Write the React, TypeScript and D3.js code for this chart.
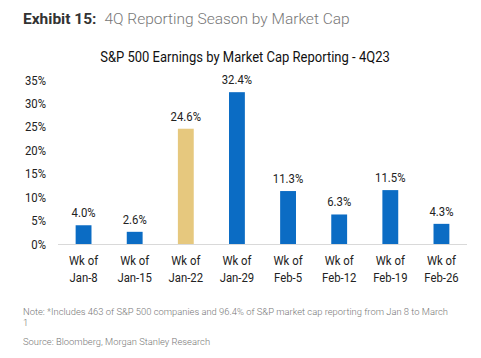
import React from "react";
import * as d3 from "d3";

const categories = ["Jan-8", "Jan-15", "Jan-22", "Jan-29", "Feb-5", "Feb-12", "Feb-19", "Feb-26"];
const values = [4.0, 2.6, 24.6, 32.4, 11.3, 6.3, 11.5, 4.3];
const highlight = ["Jan-22"];
const yTicks = [0, 5, 10, 15, 20, 25, 30, 35];

const W = 481, H = 358;
const BLUE = "#0b6cc4", TAN = "#e6c87e";
const SX = 0.84;

function CText({ x, y, anchor = "start", size = 13, fill = "#222", children }: any) {
  return (
    <text transform={`translate(${x},${y}) scale(${SX},1)`} fontSize={size} textAnchor={anchor} fill={fill}>
      {children}
    </text>
  );
}

export default function App() {
  const x = d3.scaleBand<string>().domain(categories).range([58, 467]).paddingInner(0.69).paddingOuter(0.345);
  const y = d3.scaleLinear().domain([0, 35]).range([244, 80]);
  const font = "Roboto, 'Liberation Sans', sans-serif";
  return (
    <svg width={W} height={H} style={{ position: "absolute", left: 0, top: 0, background: "#fff" }} fontFamily={font}>
      <text x={23} y={24} fontSize={15.5}>
        <tspan fontWeight="bold" fill="#333">Exhibit 15:</tspan>
        <tspan dx={8} fill="#777" fontWeight={300}>4Q Reporting Season by Market Cap</tspan>
      </text>
      <CText x={245} y={62} size={15.5} anchor="middle" fill="#111">S&amp;P 500 Earnings by Market Cap Reporting - 4Q23</CText>
      {yTicks.map((t) => (
        <CText key={t} x={46} y={y(t) + 4.5} size={13.5} anchor="end">{t}%</CText>
      ))}
      <line x1={58} x2={467} y1={244.5} y2={244.5} stroke="#d9d9d9" strokeWidth={1} />
      {categories.map((c, i) => {
        const cx = x(c)! + x.bandwidth() / 2;
        return (
          <g key={c}>
            <rect x={x(c)} y={y(values[i])} width={x.bandwidth()} height={y(0) - y(values[i])}
              fill={highlight.includes(c) ? TAN : BLUE} />
            <CText x={cx} y={y(values[i]) - 8} size={13.5} anchor="middle">{values[i].toFixed(1)}%</CText>
            <CText x={cx} y={265} size={13.5} anchor="middle">Wk of</CText>
            <CText x={cx} y={282} size={13.5} anchor="middle">{c}</CText>
          </g>
        );
      })}
      <text x={23} y={315} fontSize={9.4} fill="#777" fontWeight={300}>Note: *Includes 463 of S&amp;P 500 companies and 96.4% of S&amp;P market cap reporting from Jan 8 to March</text>
      <text x={23} y={326} fontSize={9.4} fill="#777" fontWeight={300}>1</text>
      <text x={23} y={345} fontSize={9.4} fill="#777" fontWeight={300}>Source: Bloomberg, Morgan Stanley Research</text>
    </svg>
  );
}
